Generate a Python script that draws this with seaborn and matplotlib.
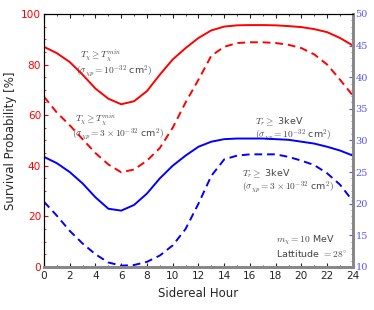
import numpy as np
import pandas as pd
import matplotlib.pyplot as plt
import seaborn as sns

sns.set_style('ticks')
plt.rcParams['mathtext.fontset'] = 'cm'

# values
hours = list(range(25))
red_solid = [87, 84.5, 81, 76, 70.5, 66.5, 64.3, 65.5, 69.5, 76, 82, 86.5, 90.5,
             93.5, 95, 95.5, 95.6, 95.6, 95.5, 95.2, 94.8, 94, 92.8, 90.5, 87.5]
red_dashed = [67.3, 61, 56, 50.5, 45, 40.5, 37.4, 38.5, 42, 47, 55, 65, 74,
              83.5, 87, 88.5, 88.8, 88.8, 88.5, 87.8, 86.5, 84, 80, 74, 67.7]
# blue curves in units of the right-hand axis
blue_solid = [27.4, 26.4, 25, 23.2, 21, 19.2, 18.9, 19.8, 21.6, 24, 26, 27.6, 29,
              29.8, 30.2, 30.3, 30.3, 30.3, 30.2, 30.1, 29.8, 29.5, 29, 28.4, 27.6]
blue_dashed = [20.3, 18.1, 15.7, 13.7, 12, 10.7, 10.2, 10.3, 10.8, 11.8, 13.4, 16, 20,
               24.4, 27, 27.6, 27.8, 27.8, 27.8, 27.4, 26.8, 26.1, 24.8, 23, 20.4]

df = pd.DataFrame({'hour': hours, 'red_solid': red_solid, 'red_dashed': red_dashed,
                   'blue_solid': blue_solid, 'blue_dashed': blue_dashed})

fig = plt.figure(figsize=(3.74, 3.10), dpi=100)
ax = fig.add_axes([0.1176, 0.139, 0.826, 0.816])
ax2 = ax.twinx()

sns.lineplot(data=df, x='hour', y='red_solid', color='red', lw=1.4, ax=ax)
sns.lineplot(data=df, x='hour', y='red_dashed', color='red', lw=1.4, ax=ax, linestyle='--')
sns.lineplot(data=df, x='hour', y='blue_solid', color='blue', lw=1.4, ax=ax2)
sns.lineplot(data=df, x='hour', y='blue_dashed', color='blue', lw=1.4, ax=ax2, linestyle='--')
ax2.lines[1].set_dashes([4, 2.5])
ax.lines[1].set_dashes([4, 2.5])

ax.set_xlim(0, 24)
ax.set_ylim(0, 100)
ax2.set_ylim(10, 50)
ax.set_xticks(range(0, 25, 2))
ax.set_xticks(range(0, 25), minor=True)
ax.set_yticks(range(0, 101, 20))
ax.set_yticks(range(0, 101, 5), minor=True)
ax2.set_yticks(range(10, 51, 5))
ax2.set_yticks(range(10, 51), minor=True)

ax.set_xlabel('Sidereal Hour', fontsize=8.5, labelpad=4)
ax.set_ylabel('Survival Probability [%]', fontsize=8.5, labelpad=3)
ax2.set_ylabel('')

ax.tick_params(axis='x', which='both', direction='in', top=True, labelsize=7.6, pad=3)
ax.tick_params(axis='x', which='major', length=3)
ax.tick_params(axis='x', which='minor', length=1.5)
ax.tick_params(axis='y', which='both', direction='in', colors='red', labelcolor='red', labelsize=7.6, pad=2)
ax.tick_params(axis='y', which='major', length=3)
ax.tick_params(axis='y', which='minor', length=1.5)
ax2.tick_params(axis='y', which='both', direction='in', colors='#5555ff', labelcolor='#5555ff', labelsize=7, pad=2)
ax2.tick_params(axis='y', which='major', length=3)
ax2.tick_params(axis='y', which='minor', length=1.5)
for lab in ax2.get_yticklabels():
    lab.set_family('DejaVu Serif')

for a in (ax, ax2):
    a.spines['left'].set_color('black')
    a.spines['top'].set_color('black')
    a.spines['bottom'].set_color('#888888')
    a.spines['bottom'].set_linewidth(2)
    a.spines['right'].set_color('#888888')
    a.spines['right'].set_linewidth(2)

tc = '#444444'
fs = 6.8
ax.text(2.8, 82.5, r'$T_\chi \geq T_\chi^{min}$', fontsize=fs, color=tc)
ax.text(2.5, 76.5, r'$(\sigma_{\chi p} = 10^{-32}$ cm$^2)$', fontsize=fs, color=tc)
ax.text(2.4, 57.5, r'$T_\chi \geq T_\chi^{min}$', fontsize=fs, color=tc)
ax.text(2.2, 51.5, r'$(\sigma_{\chi p} = 3\times10^{-32}$ cm$^2)$', fontsize=fs, color=tc)
ax.text(16.4, 56.5, r'$T_r \geq$ 3keV', fontsize=fs, color=tc)
ax.text(16.4, 51, r'$(\sigma_{\chi p} = 10^{-32}$ cm$^2)$', fontsize=fs, color=tc)
ax.text(15.4, 36, r'$T_r \geq$ 3keV', fontsize=fs, color=tc)
ax.text(15.4, 30.5, r'$(\sigma_{\chi p} = 3\times10^{-32}$ cm$^2)$', fontsize=fs, color=tc)
ax.text(18.0, 9.5, r'$m_\chi = 10$ MeV', fontsize=fs, color=tc)
ax.text(18.0, 4, r'Lattitude $= 28^{\circ}$', fontsize=fs, color=tc)

fig.savefig('out.png', dpi=100)
